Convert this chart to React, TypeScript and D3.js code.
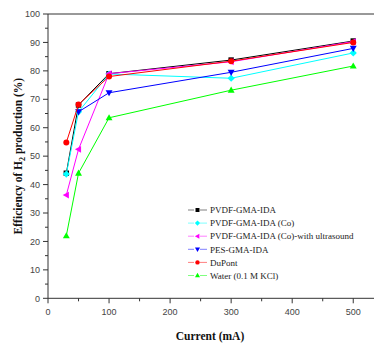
import React from "react";
import * as d3 from "d3";

// Current (mA) at which efficiency was measured
const currents = [30, 50, 100, 300, 500];

const pvdf = [44, 68, 79, 83.8, 90.5];
const pvdfCo = [43.7, 65.6, 78.9, 77.4, 86.3];
const pvdfCoUltra = [36.3, 52.4, 79, 83.2, 90.3];
const pes = [null, 65.6, 72.3, 79.5, 87.9];
const dupont = [54.8, 68.2, 78, 83.4, 90];
const water = [22, 44, 63.5, 73.2, 81.7];

const seriesNames = [
  "PVDF-GMA-IDA",
  "PVDF-GMA-IDA (Co)",
  "PVDF-GMA-IDA (Co)-with ultrasound",
  "PES-GMA-IDA",
  "DuPont",
  "Water (0.1 M KCl)",
];
const seriesValues = [pvdf, pvdfCo, pvdfCoUltra, pes, dupont, water];
const seriesColors = ["#000000", "#00ffff", "#ff00ff", "#0000ff", "#ff0000", "#00ff00"];
const seriesSymbols = ["square", "diamond", "left", "down", "circle", "up"];

const xTicks = [0, 100, 200, 300, 400, 500];
const xMinor = [50, 150, 250, 350, 450];
const yTicks = [0, 10, 20, 30, 40, 50, 60, 70, 80, 90, 100];
const yMinor = [5, 15, 25, 35, 45, 55, 65, 75, 85, 95];

const W = 374;
const H = 349;
const left = 48;
const right = 374;
const top = 14;
const bottom = 298.3;

const SERIF = "'Liberation Serif', 'Times New Roman', Times, serif";
const SANS = "'Liberation Sans', Arial, sans-serif";

const x = d3.scaleLinear().domain([0, 534]).range([left, right]);
const y = d3.scaleLinear().domain([0, 100]).range([bottom, top]);

function Marker({ kind, cx, cy, color, s = 3 }: { kind: string; cx: number; cy: number; color: string; s?: number }) {
  if (kind === "square") {
    return <rect x={cx - s * 0.9} y={cy - s * 0.9} width={s * 1.8} height={s * 1.8} fill={color} />;
  }
  if (kind === "circle") {
    return <circle cx={cx} cy={cy} r={s} fill={color} />;
  }
  let pts: [number, number][] = [];
  if (kind === "diamond") pts = [[0, -s * 1.2], [s * 1.2, 0], [0, s * 1.2], [-s * 1.2, 0]];
  if (kind === "up") pts = [[0, -s * 1.2], [s * 1.15, s * 0.85], [-s * 1.15, s * 0.85]];
  if (kind === "down") pts = [[0, s * 1.2], [s * 1.15, -s * 0.85], [-s * 1.15, -s * 0.85]];
  if (kind === "left") pts = [[-s * 1.2, 0], [s * 0.85, -s * 1.15], [s * 0.85, s * 1.15]];
  return <polygon points={pts.map(([a, b]) => `${cx + a},${cy + b}`).join(" ")} fill={color} />;
}

export default function App() {
  const line = d3
    .line<[number, number | null]>()
    .defined((d) => d[1] !== null)
    .x((d) => x(d[0]))
    .y((d) => y(d[1] as number));

  const legendX = 188;
  const legendY0 = 210;
  const legendStep = 13.1;

  return (
    <svg width={W} height={H} style={{ position: "absolute", left: 0, top: 0 }}>
      <rect width={W} height={H} fill="#fff" />
      {/* frame */}
      <line x1={left} y1={top} x2={right} y2={top} stroke="#333" strokeWidth={1} />
      <line x1={left} y1={top} x2={left} y2={bottom} stroke="#333" strokeWidth={1} />
      <line x1={left} y1={bottom} x2={right} y2={bottom} stroke="#333" strokeWidth={1} />

      {/* x ticks */}
      {xTicks.map((t) => (
        <g key={"x" + t}>
          <line x1={x(t)} x2={x(t)} y1={bottom} y2={bottom + 5} stroke="#333" />
          <text x={x(t)} y={bottom + 17} textAnchor="middle" style={{ fontFamily: SANS, fontSize: 9 }} fill="#444">
            {t}
          </text>
        </g>
      ))}
      {xMinor.map((t) => (
        <line key={"xm" + t} x1={x(t)} x2={x(t)} y1={bottom} y2={bottom + 3} stroke="#333" />
      ))}

      {/* y ticks */}
      {yTicks.map((t) => (
        <g key={"y" + t}>
          <line x1={left - 5} x2={left} y1={y(t)} y2={y(t)} stroke="#333" />
          <text x={left - 8} y={y(t) + 3.2} textAnchor="end" style={{ fontFamily: SANS, fontSize: 9 }} fill="#444">
            {t}
          </text>
        </g>
      ))}
      {yMinor.map((t) => (
        <line key={"ym" + t} x1={left - 3} x2={left} y1={y(t)} y2={y(t)} stroke="#333" />
      ))}

      {/* series */}
      {seriesValues.map((vals, i) => {
        const pts = currents.map((c, j) => [c, vals[j]] as [number, number | null]);
        return (
          <g key={seriesNames[i]}>
            <path d={line(pts) || ""} fill="none" stroke={seriesColors[i]} strokeWidth={1} />
            {pts
              .filter((p) => p[1] !== null)
              .map((p, j) => (
                <Marker key={j} kind={seriesSymbols[i]} cx={x(p[0])} cy={y(p[1] as number)} color={seriesColors[i]} />
              ))}
          </g>
        );
      })}

      {/* legend */}
      {seriesNames.map((name, i) => {
        const ly = legendY0 + i * legendStep;
        return (
          <g key={"lg" + i}>
            <line x1={legendX} x2={legendX + 6} y1={ly} y2={ly} stroke={seriesColors[i]} strokeOpacity={0.5} />
            <line x1={legendX + 12} x2={legendX + 19} y1={ly} y2={ly} stroke={seriesColors[i]} strokeOpacity={0.5} />
            <Marker kind={seriesSymbols[i]} cx={legendX + 9.5} cy={ly} color={seriesColors[i]} s={2.2} />
            <text x={legendX + 22} y={ly + 3.2} style={{ fontFamily: SERIF, fontSize: 9 }} fill="#222">
              {name}
            </text>
          </g>
        );
      })}

      {/* axis titles */}
      <text
        x={210}
        y={340}
        textAnchor="middle"
        style={{ fontFamily: SERIF, fontSize: 11.5, fontWeight: "bold" }}
        fill="#111"
      >
        Current (mA)
      </text>
      <text
        transform={`translate(22, ${(top + bottom) / 2}) rotate(-90)`}
        textAnchor="middle"
        style={{ fontFamily: SERIF, fontSize: 11.5, fontWeight: "bold" }}
        fill="#111"
      >
        Efficiency of H
        <tspan fontSize={8} dy={3}>2</tspan>
        <tspan dy={-3}> production (%)</tspan>
      </text>
    </svg>
  );
}
